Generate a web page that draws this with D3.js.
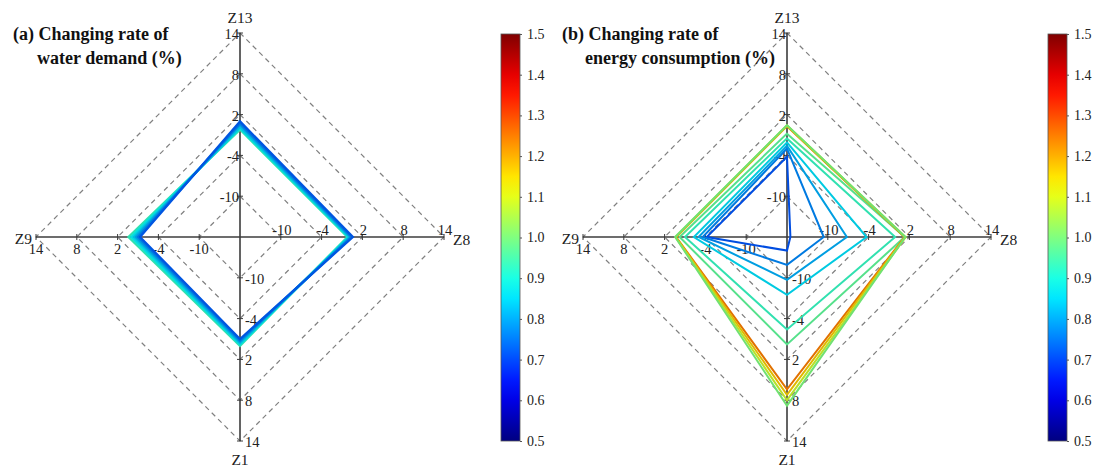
<!DOCTYPE html>
<html>
<head>
<meta http-equiv="content-type" content="text/html; charset=UTF8">
<script src="https://cdn.jsdelivr.net/npm/d3@7/dist/d3.min.js"></script>
<style>
body { margin: 0; background: #fff; }
svg { display: block; font-family: "Liberation Serif", "Times New Roman", serif; }
</style>
</head>
<body>
<svg class="chart" width="1096" height="468"></svg>
<script>
// axes go clockwise starting at the top
var axisNames = ["Z13", "Z8", "Z1", "Z9"];
var gridTicks = [14, 8, 2, -4, -10];
var colorTicks = [0.5, 0.6, 0.7, 0.8, 0.9, 1.0, 1.1, 1.2, 1.3, 1.4, 1.5];

// (a) water demand, one entry per line
var waterColor = [0.93, 0.88, 0.84, 0.80, 0.76, 0.72];
var waterZ13 = [-0.2, 0.0, 0.2, 0.5, 0.7, 1.0];
var waterZ8  = [-0.2, -0.05, 0.1, 0.25, 0.4, 0.6];
var waterZ1  = [0.0, -0.2, -0.4, -0.6, -0.8, -1.0];
var waterZ9  = [0.4, 0.0, -0.4, -0.7, -1.0, -1.3];

// (b) energy consumption
var energyColor = [0.71, 0.76, 0.80, 0.85, 0.93, 0.97, 1.25, 1.17, 1.08, 1.0];
var energyZ13 = [-4.2, -3.0, -2.6, -2.1, -1.5, -0.8, 0.3, 0.35, 0.4, 0.45];
var energyZ8  = [-15.5, -10.6, -7.2, -4.3, -0.1, 1.3, 1.3, 1.35, 1.45, 1.4];
var energyZ1  = [-14.0, -11.9, -9.7, -7.5, -2.4, -0.2, 6.4, 7.2, 8.0, 8.8];
var energyZ9  = [-4.2, -3.6, -3.0, -2.3, -1.0, -0.2, 0.3, 0.35, 0.4, 0.45];

var R = 204;
var r = d3.scaleLinear().domain([-16, 14]).range([0, R]);

// matlab jet
var jet = d3.scaleLinear()
	.domain([0.5, 0.625, 0.875, 1.125, 1.375, 1.5])
	.range(["#000080", "#0000ff", "#00ffff", "#ffff00", "#ff0000", "#800000"])
	.clamp(true);

var svg = d3.select(".chart");

var panels = [
	{cx: 240, cy: 237, title: ["(a) Changing rate of", "water demand (%)"], tx: [13, 37],
	 colors: waterColor, cols: [waterZ13, waterZ8, waterZ1, waterZ9], lw: 2.3, cbx: 501},
	{cx: 787, cy: 237, title: ["(b) Changing rate of", "energy consumption (%)"], tx: [562, 585],
	 colors: energyColor, cols: [energyZ13, energyZ8, energyZ1, energyZ9], lw: 2, cbx: 1048}
];

var grad = svg.append("defs").append("linearGradient")
	.attr("id", "jetgrad")
	.attr("x1", 0).attr("y1", 1).attr("x2", 0).attr("y2", 0);
grad.selectAll("stop")
	.data(d3.range(0, 1.0001, 0.05))
	.enter().append("stop")
	.attr("offset", function(t) { return t; })
	.attr("stop-color", function(t) { return jet(0.5 + t); });

panels.forEach(function(p) {
	var g = svg.append("g").attr("transform", "translate(" + p.cx + "," + p.cy + ")");

	// dashed diamonds
	g.selectAll(".grid")
		.data(gridTicks)
		.enter().append("path")
		.attr("d", function(t) {
			var d = r(t);
			return "M0," + (-d) + "L" + d + ",0L0," + d + "L" + (-d) + ",0Z";
		})
		.attr("fill", "none")
		.attr("stroke", "#808080")
		.attr("stroke-width", 1.2)
		.attr("stroke-dasharray", "5,4");

	// axes
	g.append("line").attr("x1", -R).attr("x2", R).attr("y1", 0).attr("y2", 0)
		.attr("stroke", "#3c3c3c").attr("stroke-width", 1.6);
	g.append("line").attr("y1", -R).attr("y2", R).attr("x1", 0).attr("x2", 0)
		.attr("stroke", "#3c3c3c").attr("stroke-width", 1.6);

	// tick marks on the four half axes
	gridTicks.forEach(function(t) {
		var d = r(t);
		[[0, -d, 1], [d, 0, 0], [0, d, 1], [-d, 0, 0]].forEach(function(q) {
			g.append("line")
				.attr("x1", q[0] - (q[2] ? 3 : 0)).attr("x2", q[0] + (q[2] ? 3 : 0))
				.attr("y1", q[1] - (q[2] ? 0 : 3)).attr("y2", q[1] + (q[2] ? 0 : 3))
				.attr("stroke", "#3c3c3c").attr("stroke-width", 1);
		});
	});

	// tick labels
	var lab = g.append("g").attr("font-size", 14.5).attr("fill", "#222");
	lab.selectAll(".top").data(gridTicks).enter().append("text")
		.attr("x", -1).attr("y", function(t) { return -r(t) + 6; })
		.attr("text-anchor", "end").text(function(t) { return t; });
	lab.selectAll(".right").data(gridTicks).enter().append("text")
		.attr("x", function(t) { return r(t) + 1; }).attr("y", -2)
		.attr("text-anchor", "middle").text(function(t) { return t; });
	lab.selectAll(".bottom").data(gridTicks).enter().append("text")
		.attr("x", 5).attr("y", function(t) { return r(t) + 6; })
		.attr("text-anchor", "start").text(function(t) { return t; });
	lab.selectAll(".left").data(gridTicks).enter().append("text")
		.attr("x", function(t) { return -r(t); }).attr("y", 17)
		.attr("text-anchor", "middle").text(function(t) { return t; });

	// axis names
	var nm = g.append("g").attr("font-size", 15.5).attr("fill", "#222");
	nm.append("text").attr("x", 0).attr("y", -R - 10).attr("text-anchor", "middle").text(axisNames[0]);
	nm.append("text").attr("x", R + 9).attr("y", 8).attr("text-anchor", "start").text(axisNames[1]);
	nm.append("text").attr("x", 0).attr("y", R + 24).attr("text-anchor", "middle").text(axisNames[2]);
	nm.append("text").attr("x", -R - 4).attr("y", 7).attr("text-anchor", "end").text(axisNames[3]);

	// data polygons
	var angles = [0, Math.PI / 2, Math.PI, 3 * Math.PI / 2];
	var radial = d3.lineRadial()
		.angle(function(d, i) { return angles[i]; })
		.radius(function(d) { return r(d); })
		.curve(d3.curveLinearClosed);

	p.colors.forEach(function(c, k) {
		var vals = p.cols.map(function(col) { return col[k]; });
		g.append("path")
			.attr("d", radial(vals))
			.attr("fill", "none")
			.attr("stroke", d3.rgb(jet(c)).darker(0.35))
			.attr("stroke-width", p.lw)
			.attr("stroke-linejoin", "miter");
	});

	// title
	var tt = svg.append("text").attr("font-size", 18).attr("font-weight", "bold").attr("fill", "#111");
	tt.append("tspan").attr("x", p.tx[0]).attr("y", 40).text(p.title[0]);
	tt.append("tspan").attr("x", p.tx[1]).attr("y", 64).text(p.title[1]);

	// colorbar
	var cy = d3.scaleLinear().domain([0.5, 1.5]).range([441, 34]);
	svg.append("rect")
		.attr("x", p.cbx).attr("y", 34).attr("width", 19).attr("height", 407)
		.attr("fill", "url(#jetgrad)")
		.attr("stroke", "#555").attr("stroke-width", 0.8);
	var cbAxis = svg.append("g")
		.attr("transform", "translate(" + (p.cbx + 19) + ",0)")
		.call(d3.axisRight(cy).tickValues(colorTicks).tickFormat(d3.format(".1f")).tickSize(2).tickPadding(5));
	cbAxis.select(".domain").remove();
	cbAxis.selectAll("line").attr("stroke", "#555");
	cbAxis.selectAll("text").attr("font-size", 14).attr("fill", "#222")
		.attr("font-family", "Liberation Serif, Times New Roman, serif");
});
</script>
</body>
</html>
